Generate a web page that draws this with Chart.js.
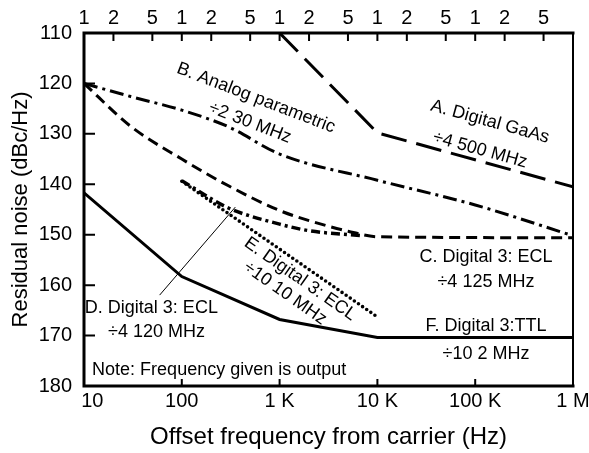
<!DOCTYPE html>
<html>
<head>
<meta charset="utf-8">
<script src="https://cdn.jsdelivr.net/npm/chart.js@4.4.1/dist/chart.umd.min.js"></script>
<style>
  html, body { margin: 0; padding: 0; background: #fff; }
</style>
</head>
<body>
<canvas id="myChart" width="589" height="453"></canvas>
<script>
// axis ticks
const decadeTicks = [10, 100, 1e3, 1e4, 1e5, 1e6];
const decadeLabels = ['   10', '100', '1 K', '10 K', '100 K', '1 M'];
const topTicks = [10, 20, 50, 100, 200, 500, 1e3, 2e3, 5e3, 1e4, 2e4, 5e4, 1e5, 2e5, 5e5];
const topLabels = ['1', '2', '5', '1', '2', '5', '1', '2', '5', '1', '2', '5', '1', '2', '5'];
const noiseTicks = [110, 120, 130, 140, 150, 160, 170, 180];

// A. Digital GaAs ÷4 500 MHz
const freqA = [1e3, 1e4, 1e6];
const noiseA = [110, 129.8, 140.5];
// B. Analog parametric ÷2 30 MHz
const freqB = [10, 30, 100, 300, 1e3, 1e4, 1e5, 1e6];
const noiseB = [120, 122.6, 125.3, 128.6, 134, 139.2, 144.1, 150.2];
// C. Digital 3: ECL ÷4 125 MHz
const freqC = [10, 30, 100, 300, 1e3, 2e3, 5e3, 1e4, 1e6];
const noiseC = [120, 128.5, 135, 140.3, 145.2, 147.2, 149.3, 150.4, 150.6];
// D. Digital 3: ECL ÷4 120 MHz
const freqD = [100, 300, 1e3, 2e3, 7e3];
const noiseD = [139.3, 144.7, 147.9, 149.2, 150.2];
// E. Digital 3: ECL ÷10 10 MHz
const freqE = [100, 1e4];
const noiseE = [139.4, 166.3];
// F. Digital 3: TTL ÷10 2 MHz
const freqF = [10, 100, 1e3, 1e4, 1e6];
const noiseF = [141.7, 158.3, 166.8, 170.4, 170.4];

// labels on the plot: [text, freq, noise, rotation (deg), align]
const notes = [
  ['B. Analog parametric', 574, 122.9, 21, 'center'],
  ['\u00f72 30 MHz', 498, 127.8, 21, 'center'],
  ['A. Digital GaAs', 141600, 127.6, 15.5, 'center'],
  ['\u00f74 500 MHz', 112000, 133.2, 15.5, 'center'],
  ['C. Digital 3: ECL', 128800, 154.4, 0, 'center'],
  ['\u00f74 125 MHz', 128800, 159.4, 0, 'center'],
  ['F. Digital 3:TTL', 128800, 168.1, 0, 'center'],
  ['\u00f710 2 MHz', 128800, 173.65, 0, 'center'],
  ['E. Digital 3: ECL', 1620, 158.8, 35, 'center'],
  ['\u00f710 10 MHz', 1135, 161.6, 35, 'center'],
  ['D. Digital 3: ECL', 10.2, 164.5, 0, 'left'],
  ['\u00f74 120 MHz', 17.6, 169.3, 0, 'left'],
  ['Note: Frequency given is output', 12.1, 176.8, 0, 'left']
];
// leader line from label D to its curve
const leaderFreq = [59.8, 350];
const leaderNoise = [161.9, 144.6];

Chart.defaults.font.family = '"Liberation Sans", Arial, Helvetica, sans-serif';
Chart.defaults.color = '#000';

function pts(xs, ys) {
  return xs.map((x, i) => ({ x: x, y: ys[i] }));
}

function series(xs, ys, dash, width, smooth) {
  return {
    data: pts(xs, ys),
    borderColor: '#000',
    borderWidth: width,
    borderDash: dash,
    borderCapStyle: dash.length && dash[0] === 0 ? 'round' : 'butt',
    pointRadius: 0,
    fill: false,
    tension: 0,
    cubicInterpolationMode: smooth ? 'monotone' : 'default'
  };
}

// keep the plot edges where the reference has them
function noSidePadding(s) {
  s.paddingLeft = 0;
  s.paddingRight = 0;
}

const frame = {
  id: 'frame',
  afterDatasetsDraw(chart) {
    const { ctx, chartArea: a, scales } = chart;
    const x = scales.x, y = scales.y;
    ctx.save();
    ctx.strokeStyle = '#000';
    ctx.lineCap = 'square';

    // border
    ctx.lineWidth = 3;
    ctx.beginPath();
    ctx.moveTo(a.left, a.top); ctx.lineTo(a.right, a.top);
    ctx.moveTo(a.left, a.top); ctx.lineTo(a.left, a.bottom);
    ctx.moveTo(a.left, a.bottom); ctx.lineTo(a.right, a.bottom);
    ctx.stroke();
    ctx.lineWidth = 2;
    ctx.beginPath();
    ctx.moveTo(a.right, a.top); ctx.lineTo(a.right, a.bottom);
    ctx.stroke();

    // inward tick marks
    ctx.lineWidth = 2;
    ctx.beginPath();
    topTicks.forEach(v => {
      const px = x.getPixelForValue(v);
      ctx.moveTo(px, a.top); ctx.lineTo(px, a.top + 7);
    });
    decadeTicks.slice(1, -1).forEach(v => {
      const px = x.getPixelForValue(v);
      ctx.moveTo(px, a.bottom); ctx.lineTo(px, a.bottom - 6);
    });
    noiseTicks.slice(1, -1).forEach(v => {
      const py = y.getPixelForValue(v);
      ctx.moveTo(a.left, py); ctx.lineTo(a.left + 10, py);
    });
    ctx.stroke();

    // leader line
    ctx.lineWidth = 1;
    ctx.beginPath();
    ctx.moveTo(x.getPixelForValue(leaderFreq[0]), y.getPixelForValue(leaderNoise[0]));
    ctx.lineTo(x.getPixelForValue(leaderFreq[1]), y.getPixelForValue(leaderNoise[1]));
    ctx.stroke();

    // text labels
    ctx.fillStyle = '#000';
    ctx.font = '18px "Liberation Sans", Arial, sans-serif';
    ctx.textBaseline = 'middle';
    notes.forEach(n => {
      ctx.save();
      ctx.translate(x.getPixelForValue(n[1]), y.getPixelForValue(n[2]));
      ctx.rotate(n[3] * Math.PI / 180);
      ctx.textAlign = n[4];
      ctx.fillText(n[0], 0, 0);
      ctx.restore();
    });
    ctx.restore();
  }
};

new Chart('myChart', {
  type: 'line',
  data: {
    datasets: [
      series(freqA, noiseA, [26, 10], 3, false),
      series(freqB, noiseB, [14, 5, 3, 5], 3, true),
      series(freqC, noiseC, [11, 6], 3, true),
      series(freqD, noiseD, [9, 4, 3, 4], 3.5, true),
      series(freqE, noiseE, [0, 5], 3.6, false),
      series(freqF, noiseF, [], 3, false)
    ]
  },
  options: {
    responsive: false,
    animation: false,
    devicePixelRatio: 1,
    layout: { padding: { left: 0, right: 16, top: 0, bottom: 0 } },
    plugins: { legend: { display: false }, tooltip: { enabled: false } },
    scales: {
      x: {
        type: 'logarithmic',
        position: 'bottom',
        min: 10,
        max: 1e6,
        afterBuildTicks: s => { s.ticks = decadeTicks.map(v => ({ value: v })); },
        afterFit: s => { s.height = 67; noSidePadding(s); },
        ticks: {
          autoSkip: false,
          maxRotation: 0,
          padding: 3,
          font: { size: 20 },
          callback: v => decadeLabels[decadeTicks.indexOf(v)]
        },
        grid: { display: false, drawTicks: false },
        border: { display: false },
        title: {
          display: true,
          text: 'Offset frequency from carrier (Hz)',
          font: { size: 24 },
          padding: { top: 0, bottom: 1 }
        }
      },
      x2: {
        type: 'logarithmic',
        position: 'top',
        min: 10,
        max: 1e6,
        afterBuildTicks: s => { s.ticks = topTicks.map(v => ({ value: v })); },
        afterFit: s => { s.height = 33; noSidePadding(s); },
        ticks: {
          autoSkip: false,
          maxRotation: 0,
          padding: 3,
          font: { size: 20 },
          callback: v => topLabels[topTicks.indexOf(v)]
        },
        grid: { display: false, drawTicks: false },
        border: { display: false }
      },
      y: {
        type: 'linear',
        min: 110,
        max: 180,
        reverse: true,
        afterBuildTicks: s => { s.ticks = noiseTicks.map(v => ({ value: v })); },
        afterFit: s => { s.width = 84; },
        ticks: { padding: 12, font: { size: 20 } },
        grid: { display: false, drawTicks: false },
        border: { display: false },
        title: {
          display: true,
          text: 'Residual noise (dBc/Hz)',
          font: { size: 22 },
          padding: { top: 8, bottom: 0 }
        }
      }
    }
  },
  plugins: [frame]
});
</script>
</body>
</html>
